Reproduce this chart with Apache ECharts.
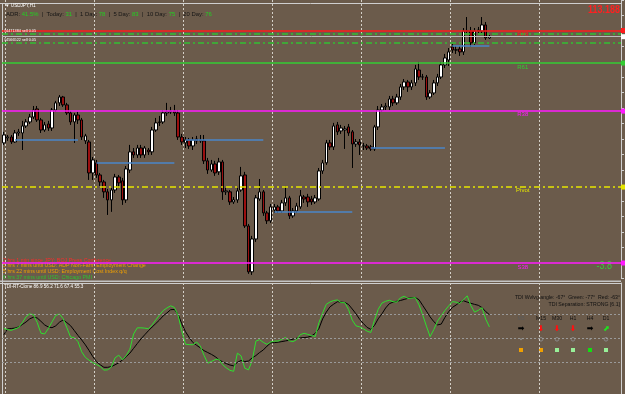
<!DOCTYPE html>
<html>
<head>
<meta charset="utf-8">
<script src="https://cdn.jsdelivr.net/npm/echarts@6/dist/echarts.min.js"></script>
<style>
html,body{margin:0;padding:0;background:#6b5b4b;overflow:hidden}
#c{width:625px;height:394px}
</style>
</head>
<body>
<div id="c"></div>
<script>
// ---------- DATA ----------
const opens = [112.475,112.507,112.513,112.481,112.539,112.539,112.584,112.610,112.642,112.694,
112.623,112.558,112.597,112.571,112.687,112.733,112.771,112.720,112.668,112.610,
112.655,112.623,112.488,112.481,112.281,112.346,112.268,112.223,112.159,112.107,
112.171,112.255,112.230,112.107,112.300,112.417,112.397,112.442,112.397,112.429,
112.417,112.558,112.610,112.610,112.668,112.675,112.681,112.668,112.513,112.475,
112.494,112.455,112.500,112.488,112.488,112.359,112.300,112.339,112.288,112.352,
112.159,112.159,112.094,112.107,112.171,112.268,111.939,111.643,111.855,112.113,
112.159,112.023,111.972,112.042,112.062,112.036,112.088,112.120,112.004,112.036,
112.062,112.126,112.126,112.113,112.094,112.113,112.294,112.346,112.475,112.449,
112.591,112.552,112.558,112.578,112.546,112.468,112.481,112.455,112.455,112.449,
112.436,112.578,112.687,112.707,112.707,112.758,112.733,112.771,112.836,112.868,
112.836,112.862,112.945,112.900,112.900,112.771,112.797,112.862,112.900,112.978,
113.010,113.094,113.074,113.081,113.062,113.197,113.197,113.120,113.197,113.197,
113.236,113.152];
const closes = [112.526,112.513,112.481,112.539,112.546,112.584,112.610,112.642,112.687,112.623,
112.558,112.591,112.571,112.687,112.733,112.771,112.720,112.668,112.610,112.655,
112.623,112.513,112.520,112.281,112.365,112.268,112.223,112.159,112.107,112.171,
112.255,112.217,112.107,112.307,112.417,112.397,112.442,112.397,112.442,112.417,
112.558,112.604,112.607,112.668,112.675,112.681,112.668,112.513,112.481,112.494,
112.455,112.494,112.488,112.494,112.359,112.300,112.339,112.281,112.352,112.159,
112.165,112.094,112.107,112.165,112.262,111.939,111.643,111.855,112.120,112.159,
112.023,111.972,112.062,112.062,112.036,112.088,112.120,112.004,112.036,112.068,
112.133,112.113,112.094,112.094,112.120,112.294,112.346,112.475,112.449,112.584,
112.546,112.571,112.565,112.539,112.468,112.481,112.462,112.456,112.442,112.436,
112.578,112.687,112.707,112.713,112.758,112.733,112.771,112.836,112.868,112.836,
112.862,112.952,112.900,112.901,112.771,112.797,112.862,112.900,112.978,113.023,
113.062,113.074,113.075,113.062,113.197,113.198,113.120,113.197,113.203,113.236,
113.152,113.161];
const lows = [112.462,112.488,112.468,112.475,112.520,112.429,112.571,112.597,112.629,112.610,
112.539,112.546,112.552,112.552,112.675,112.713,112.707,112.655,112.591,112.475,
112.597,112.494,112.468,112.236,112.236,112.249,112.197,112.120,112.010,112.030,
112.152,112.184,112.075,112.088,112.281,112.378,112.378,112.378,112.378,112.397,
112.397,112.546,112.584,112.597,112.649,112.662,112.649,112.494,112.462,112.442,
112.436,112.429,112.468,112.475,112.339,112.275,112.288,112.262,112.268,112.107,
112.139,112.075,112.081,112.088,112.159,111.926,111.630,111.623,111.836,112.101,
112.004,111.952,111.959,112.023,112.023,112.023,112.068,111.984,111.991,112.023,
112.049,112.088,112.062,112.075,112.081,112.101,112.275,112.333,112.429,112.429,
112.526,112.533,112.436,112.520,112.313,112.449,112.397,112.429,112.429,112.423,
112.423,112.558,112.675,112.687,112.687,112.713,112.720,112.752,112.816,112.804,
112.816,112.842,112.881,112.881,112.752,112.758,112.784,112.842,112.887,112.958,
112.971,113.055,113.049,113.036,113.042,113.184,113.094,113.107,113.184,113.184,
113.139,113.145];
const highs = [112.546,112.526,112.526,112.558,112.565,112.617,112.629,112.662,112.713,112.713,
112.636,112.610,112.617,112.700,112.746,112.784,112.778,112.733,112.681,112.668,
112.675,112.636,112.533,112.494,112.384,112.365,112.281,112.236,112.178,112.184,
112.275,112.268,112.249,112.326,112.462,112.442,112.462,112.462,112.455,112.442,
112.578,112.636,112.649,112.687,112.733,112.707,112.720,112.687,112.533,112.513,
112.507,112.513,112.520,112.526,112.526,112.378,112.365,112.359,112.378,112.365,
112.184,112.171,112.126,112.184,112.320,112.288,111.952,111.875,112.139,112.242,
112.171,112.036,112.081,112.081,112.075,112.107,112.197,112.133,112.055,112.088,
112.171,112.139,112.146,112.133,112.139,112.313,112.365,112.494,112.494,112.604,
112.610,112.591,112.584,112.597,112.558,112.500,112.500,112.475,112.468,112.462,
112.591,112.713,112.726,112.733,112.778,112.778,112.791,112.855,112.887,112.881,
112.881,112.978,112.997,112.920,112.913,112.816,112.881,112.920,112.997,113.049,
113.087,113.113,113.100,113.100,113.216,113.287,113.223,113.216,113.223,113.287,
113.255,113.171];

// TDI sub-window
const tdiGreen = [57.5,56.7,56.1,57.2,58.3,62.0,66.3,68.5,67.8,62.0,
54.0,53.4,57.4,62.5,67.3,68.4,64.9,58.0,51.1,50.7,
47.6,40.0,35.8,33.7,31.9,30.5,29.0,26.3,26.5,28.6,
35.5,37.5,34.0,37.2,41.9,53.4,58.0,58.0,57.8,57.3,
60.2,64.0,67.7,71.0,72.9,74.5,73.3,67.5,55.7,45.7,
45.4,45.3,47.4,44.3,37.4,31.5,32.8,34.1,34.6,30.4,
28.0,26.1,25.4,39.0,37.0,27.7,26.5,33.3,48.1,49.1,
47.1,45.6,47.4,48.1,48.1,49.4,50.8,48.3,47.6,49.2,
52.9,53.9,53.1,52.2,51.5,61.8,69.1,75.7,77.4,78.5,
78.9,76.9,76.9,71.6,63.8,59.5,58.7,57.3,55.5,54.5,
63.9,71.9,76.6,77.9,78.7,77.6,77.3,80.5,81.7,80.0,
80.3,80.7,75.2,67.7,59.3,51.4,56.7,63.0,67.1,71.0,
74.4,77.6,77.3,76.2,79.1,82.0,74.6,69.8,71.1,73.1,
64.6,58.7];
const tdiSignal = [52.8,57.2,57.5,57.8,58.7,60.5,62.4,64.8,66.0,65.4,
62.9,60.2,58.6,58.1,59.5,62.2,63.9,61.9,59.6,56.0,
52.3,48.9,45.2,41.0,36.4,32.7,30.3,28.4,28.4,28.9,
30.3,31.8,33.9,36.4,39.0,42.6,46.2,49.7,52.8,55.8,
58.6,61.2,63.9,67.0,69.2,71.6,71.8,68.2,61.1,55.1,
50.8,47.0,44.9,43.0,40.9,39.5,38.1,36.4,34.3,32.4,
31.2,30.1,29.5,32.1,33.5,32.7,33.1,35.5,37.2,39.5,
41.4,44.3,46.7,46.9,47.2,47.7,48.2,48.7,49.5,50.2,
50.5,50.7,51.0,51.9,53.9,57.5,64.7,69.8,73.8,75.8,
77.6,77.3,77.0,75.5,72.1,68.5,64.4,61.2,58.3,56.9,
59.8,64.8,68.5,72.9,76.1,77.3,77.9,78.5,79.3,80.1,
80.7,80.7,79.1,74.8,70.6,66.2,62.6,60.2,60.8,65.8,
70.1,73.3,75.1,77.2,78.3,77.3,76.4,75.6,74.9,73.2,
70.2,67.9];
const tdiLevels = [32, 50, 68];

// price levels
const levelNames = ['R78', 'R61', 'R38', 'Pivot', 'S38'];
const levelValues = [113.200, 112.987, 112.684, 112.194, 111.697];
const orderLabels = ['#4471384 sell 0.05', '#4566522 sell 0.05'];
const orderPrices = [113.181, 113.123];
const bidPrice = 113.161;
const bidText = '113.188';
const dayLinePrices = [112.497, 112.348, 112.497, 112.032, 112.445, 113.103];
const dayLineStart = [3, 25, 49, 73, 99, 121];
const dayLineEnd = [20, 46, 70, 94, 119, 131];

// header / info texts
const symbolText = '\u25BC USDJPY,H1';
const adrPct = '41.5%';
const adrLabels = ['Today', '1 Day', '5 Day', '10 Day', '20 Day'];
const adrValues = [31, 78, 83, 75, 76];
const newsLines = ['2 hrs 1 min since JPY: BOJ Press Conference',
  '5 hrs 7 mins until USD: ADP Non-Farm Employment Change',
  '5 hrs 22 mins until USD: Employment Cost Index q/q',
  '6 hrs 37 mins until USD: Chicago PMI'];
const tdiTitle = 'TDI-RT-Clone 86.9 56.2 71.6 67.4 55.3';
const tdiAngle = 'TDI Wvlvg angle: -67\u00B0  Green: -77\u00B0  Red: -63\u00B0';
const tdiSep = 'TDI Separation: STRONG [6.1]';
const tfLabels = ['M5', 'M15', 'M30', 'H1', 'H4', 'D1'];
const tfArrows = ['\u27A1', '\u2B07', '\u2B07', '\u2B07', '\u27A1', '\u2B08'];
const sideValue = '-3.8';

// ---------- LAYOUT / STYLE ----------
const FF = "'Liberation Sans', Arial, sans-serif";
const BG = '#6b5b4b';
const GRID_C = '#d4d0c8';
const slots = 167;
const times = [];
for (let i = 0; i < slots; i++) {
  const k = i + 23;
  times.push((24 + Math.floor(k / 24)) + ' Jul ' + String(k % 24).padStart(2, '0') + ':00');
}
const dayStarts = [1, 25, 49, 73, 97, 121, 145];
const levelColors = ['#ff1a1a', '#33cc33', '#ff1aff', '#e6e600', '#ff1aff'];
const levelTypes = ['solid', 'solid', 'solid', [6, 3, 2, 3], 'solid'];
const orderColor = '#33c033';
const bidColor = '#bcbcbc';
const dayLineColor = '#4a86c8';
const LW = 1.6;
const tfX = [521, 541, 557, 573, 590, 606];
const tfLabelColors = ['#5a5a5a', '#111', '#111', '#111', '#111', '#111'];
const tfArrowColors = ['#000', '#ff1010', '#ff1010', '#ff1010', '#000', '#22e022'];
const tfDotRing = [false, true, true, true, false, true];
const tfSquareColors = ['#f0a000', '#f0a000', '#98f098', '#98f098', '#10e010', '#98f098'];
const labelSlot = 140;

const candleData = opens.map((o, i) => [o, closes[i], lows[i], highs[i]]);

function endBox(color) {
  return {show: true, position: 'end', formatter: ' ', backgroundColor: color,
    width: 4, height: 5, padding: 0, distance: 0, fontSize: 4};
}
// one carrier series per colour so the marker colours stay exact
function carrier(color, lineType, markData, extra, width) {
  return Object.assign({
    type: 'line', xAxisIndex: 0, yAxisIndex: 0, data: [], color: color, z: 2,
    symbol: 'none', silent: true,
    markLine: {silent: true, symbol: 'none', animation: false,
      lineStyle: {color: color, width: width || LW, type: lineType, opacity: 1},
      label: {show: false}, data: markData}
  }, extra || {});
}

const levelSeries = levelNames.map((n, i) => carrier(levelColors[i], levelTypes[i],
  [{yAxis: levelValues[i], label: endBox(levelColors[i])}],
  {markPoint: {silent: true, symbol: 'circle', symbolSize: 0, animation: false,
    itemStyle: {color: 'rgba(0,0,0,0)'},
    data: [{coord: [labelSlot, levelValues[i]], value: n,
      label: {show: true, formatter: n, color: levelColors[i], fontSize: 6, fontFamily: FF, offset: [0, 4]}}]}}));

const orderSeries = carrier(orderColor, [6, 3, 2, 3], orderPrices.map((p, i) => ({
  yAxis: p,
  label: {show: true, position: 'insideStartTop', formatter: orderLabels[i], color: '#ffffff',
    fontSize: 3.8, fontFamily: FF, distance: 1, offset: [1, 0]}
})));
const bidSeries = carrier(bidColor, 'solid', [{yAxis: bidPrice, label: endBox('#ffffff')}], null, 1);
const daySeries = carrier(dayLineColor, 'solid', dayLinePrices.map((p, i) => [
  {coord: [dayLineStart[i], p]}, {coord: [dayLineEnd[i], p]}]));

const adrRich = '{k|ADR: }{v|' + adrPct + '}' + adrLabels.map((l, i) =>
  '{k|  |  ' + l + ': }{v|' + adrValues[i] + '}').join('');

const txt = (x, y, text, fill, font, extra) => Object.assign({type: 'text', x: x, y: y, silent: true,
  style: Object.assign({text: text, fill: fill, font: font, verticalAlign: 'middle'}, (extra && extra.style) || {})},
  (extra && extra.el) || {});

const graphics = [
  {type: 'line', shape: {x1: 0, y1: 3.5, x2: 621, y2: 3.5}, style: {stroke: '#cfcfcf', lineWidth: 1}, silent: true},
  {type: 'line', shape: {x1: 2.5, y1: 3.5, x2: 2.5, y2: 394}, style: {stroke: '#cfcfcf', lineWidth: 1}, silent: true},
  {type: 'rect', shape: {x: 0, y: 280.5, width: 621, height: 1.5}, style: {fill: '#c4c4c4'}, silent: true},
  {type: 'line', shape: {x1: 0, y1: 283.5, x2: 621, y2: 283.5}, style: {stroke: '#cfcfcf', lineWidth: 1}, silent: true},
  txt(5, 5.5, symbolText, '#ffffff', '4.6px ' + FF),
  {type: 'text', x: 6, y: 14, silent: true, style: {text: adrRich, font: '5.9px ' + FF, verticalAlign: 'middle',
    rich: {k: {fill: '#151515', font: '5.9px ' + FF}, v: {fill: '#22d022', font: '5.9px ' + FF}}}},
  txt(620, 10, bidText, '#ff2020', 'bold 9px ' + FF, {style: {align: 'right'}, el: {scaleY: 1.25}}),
  txt(612, 266, sideValue, '#3cc83c', '9px ' + FF, {style: {align: 'right'}, el: {scaleY: 1.2}}),
  txt(4, 286.7, tdiTitle, '#ffffff', '4.6px ' + FF),
  txt(620, 297.3, tdiAngle, '#111111', '5.2px ' + FF, {style: {align: 'right'}}),
  txt(620, 305, tdiSep, '#111111', '5.2px ' + FF, {style: {align: 'right'}})
];
const newsColors = ['#ff2a2a', '#f0a000', '#f0a000', '#30c030'];
const newsY = [260.6, 265.6, 271.5, 277.6];
newsLines.forEach((t, i) => graphics.push(txt(3, newsY[i], t, newsColors[i], '5.3px ' + FF)));
tfLabels.forEach((t, i) => {
  graphics.push(txt(tfX[i], 319, t, tfLabelColors[i], '5.2px ' + FF, {style: {align: 'center'}}));
  graphics.push(txt(tfX[i], 328.5, tfArrows[i], tfArrowColors[i], 'bold 8px "DejaVu Sans"', {style: {align: 'center'}}));
  if (tfDotRing[i]) graphics.push({type: 'circle', shape: {cx: tfX[i], cy: 339.3, r: 1.8}, style: {fill: 'none', stroke: '#8a8a8a', lineWidth: 1}, silent: true});
  else graphics.push({type: 'circle', shape: {cx: tfX[i], cy: 339.3, r: 1}, style: {fill: '#8a8a8a'}, silent: true});
  graphics.push({type: 'rect', shape: {x: tfX[i] - 2, y: 348, width: 4, height: 4}, style: {fill: tfSquareColors[i]}, silent: true});
});

const xCommon = {
  type: 'category', data: times, boundaryGap: true,
  axisLine: {show: false}, axisTick: {show: false}, axisLabel: {show: false},
  splitLine: {show: true, interval: (idx) => dayStarts.includes(idx),
    lineStyle: {color: GRID_C, type: [2, 2], width: 1}}
};

const option = {
  backgroundColor: BG,
  animation: false,
  grid: [
    {left: 2, right: 4, top: 0, height: 278.5},
    {left: 2, right: 4, top: 283, height: 111}
  ],
  xAxis: [Object.assign({gridIndex: 0}, xCommon), Object.assign({gridIndex: 1}, xCommon)],
  yAxis: [
    {gridIndex: 0, type: 'value', position: 'right', min: 111.6, max: 113.3968, interval: 0.1,
      axisLine: {show: true, lineStyle: {color: '#cfcfcf'}},
      axisTick: {show: true, length: 3, lineStyle: {color: '#cfcfcf'}},
      axisLabel: {show: false}, splitLine: {show: false}},
    {gridIndex: 1, type: 'value', position: 'right', min: 8.375, max: 91.625,
      axisLine: {show: true, lineStyle: {color: '#cfcfcf'}},
      axisTick: {show: false}, axisLabel: {show: false}, splitLine: {show: false}}
  ],
  graphic: graphics,
  series: [
    ...levelSeries, orderSeries, bidSeries, daySeries,
    {type: 'candlestick', xAxisIndex: 0, yAxisIndex: 0, data: candleData, barWidth: 3, z: 3,
      itemStyle: {color: '#ffffff', color0: '#9b0f0f', borderColor: '#000000', borderColor0: '#000000', borderWidth: 1}},
    {type: 'line', xAxisIndex: 1, yAxisIndex: 1, data: [], symbol: 'none', color: '#9a9a9a',
      markLine: {silent: true, symbol: 'none', label: {show: false},
        lineStyle: {color: '#9a9a9a', type: [2, 2], width: 1, opacity: 1},
        data: tdiLevels.map(v => ({yAxis: v}))}},
    {type: 'line', xAxisIndex: 1, yAxisIndex: 1, data: tdiSignal, symbol: 'none', color: '#000000',
      lineStyle: {color: '#000000', width: 1}},
    {type: 'line', xAxisIndex: 1, yAxisIndex: 1, data: tdiGreen, symbol: 'none', color: '#2ee02e',
      lineStyle: {color: '#2ee02e', width: 1}}
  ]
};

const chart = echarts.init(document.getElementById('c'), null, {renderer: 'canvas'});
chart.setOption(option);
</script>
</body>
</html>
